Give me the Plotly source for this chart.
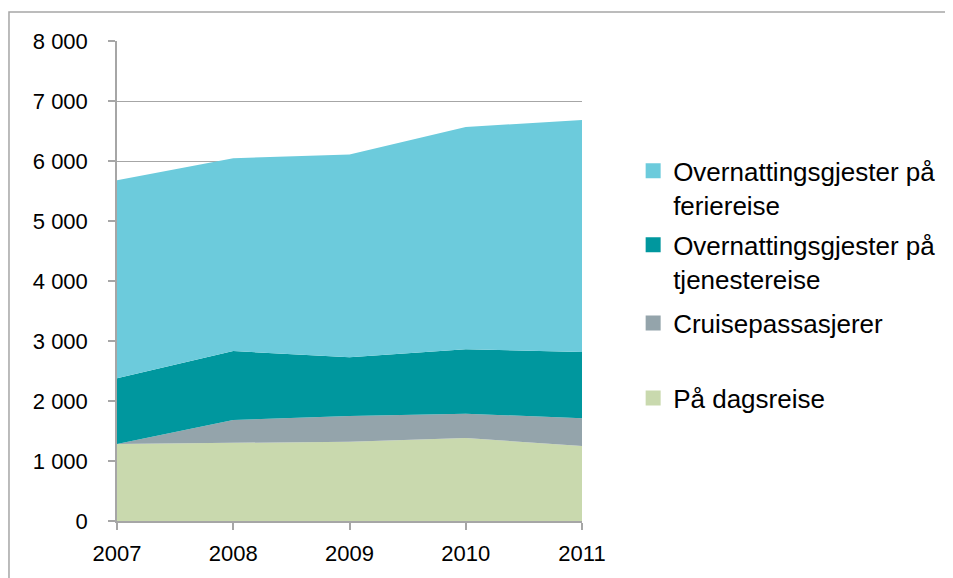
import plotly.graph_objects as go

years = [2007, 2008, 2009, 2010, 2011]
dagsreise = [1283, 1300, 1322, 1383, 1250]
cruise = [0, 383, 428, 406, 461]
tjeneste = [1095, 1150, 978, 1072, 1106]
ferie = [3302, 3212, 3382, 3706, 3866]

names = ["På dagsreise", "Cruisepassasjerer",
         "Overnattingsgjester på<br>tjenestereise",
         "Overnattingsgjester på<br>feriereise"]
colors = ["#C9D9AE", "#94A4AB", "#00979E", "#6CCBDC"]
series = [dagsreise, cruise, tjeneste, ferie]
legend_ids = ["legend4", "legend3", "legend2", "legend"]
legend_y = [0.256, 0.4125, 0.54, 0.694]

GRAY = "#A6A6A6"
fig = go.Figure()
for n, c, s in zip(names, colors, series):
    fig.add_trace(go.Scatter(
        x=years, y=s, name=n, stackgroup="one", mode="lines",
        line=dict(width=0, color=c), fillcolor=c, showlegend=False))
# legend entries with square swatches
for n, c, lg in zip(names, colors, legend_ids):
    fig.add_trace(go.Scatter(
        x=[None], y=[None], name=n, mode="markers",
        marker=dict(symbol="square", size=15, color=c), legend=lg))

font = dict(family="Liberation Sans, Arial, sans-serif", color="#000000")
leg_common = dict(xanchor="left", yanchor="middle", x=1.11, valign="top",
                  bgcolor="rgba(0,0,0,0)", font=dict(size=26, **font))
layout_legends = {}
for lg, yy in zip(legend_ids, legend_y):
    layout_legends[lg] = dict(y=yy, **leg_common)

fig.update_layout(
    width=953, height=578,
    margin=dict(l=109, r=379, t=33, b=65),
    paper_bgcolor="white", plot_bgcolor="white",
    font=dict(size=22, **font),
    showlegend=True,
    xaxis=dict(range=[2007, 2011], tickvals=years, ticktext=[str(y) for y in years],
               showgrid=False, showline=True, linecolor=GRAY, linewidth=1.5,
               ticks="outside", ticklen=7, tickcolor=GRAY, tickwidth=1.5,
               ticklabelstandoff=5, zeroline=False),
    yaxis=dict(range=[0, 8000], tickvals=[0, 1000, 2000, 3000, 4000, 5000, 6000, 7000, 8000],
               ticktext=["0", "1 000", "2 000", "3 000", "4 000", "5 000", "6 000", "7 000", "8 000"],
               showgrid=True, gridcolor=GRAY, gridwidth=1.2,
               showline=True, linecolor=GRAY, linewidth=1.5,
               ticks="outside", ticklen=7, tickcolor=GRAY, tickwidth=1.5,
               ticklabelstandoff=16, zeroline=False),
    shapes=[dict(type="rect", xref="paper", yref="paper",
                 x0=-0.2323, x1=1.9, y0=-0.2, y1=1.0604,
                 line=dict(color=GRAY, width=1.5), fillcolor="rgba(0,0,0,0)",
                 layer="below")],
    **layout_legends,
)

fig.write_html("out.html")
